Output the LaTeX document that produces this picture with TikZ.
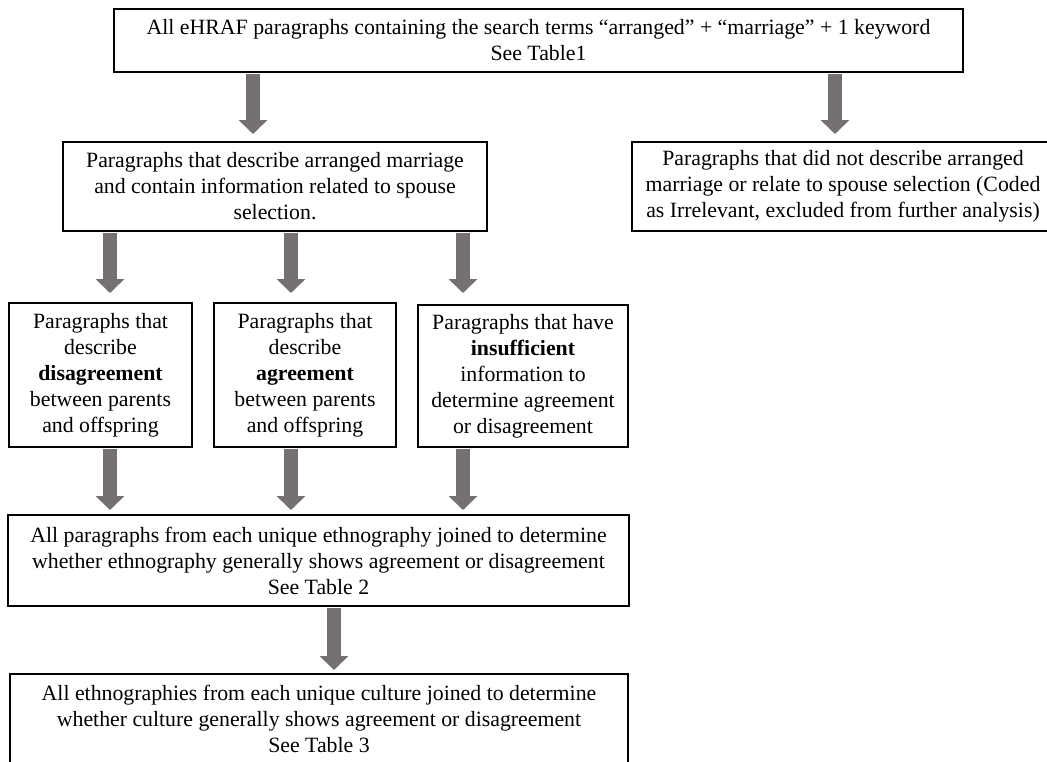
\documentclass[tikz,border=0pt]{standalone}
\usepackage{fontspec}
\setmainfont{Liberation Serif}
\usetikzlibrary{arrows.meta}
\definecolor{arrowgray}{RGB}{118,113,113}
\begin{document}
\begin{tikzpicture}[x=1pt,y=-1pt,
  box/.style={draw=black, line width=2pt, fill=white, inner sep=0pt, align=center,
    font=\fontsize{21.8}{26}\selectfont},
  fat/.style={draw=arrowgray, line width=14pt, shorten <=1pt,
    -{Triangle[width=28pt,length=14pt]}}]
\useasboundingbox (0,0) rectangle (1047,761);
\clip (0,0) rectangle (1047,761);
\fill[white] (0,0) rectangle (1047,761);

\node[box, minimum width=849pt, minimum height=63pt] (top) at (538.5,40.5)
  {All eHRAF paragraphs containing the search terms “arranged” + “marriage” + 1 keyword\\See Table1};
\node[box, minimum width=424pt, minimum height=89pt] (b2) at (275,186.5)
  {Paragraphs that describe arranged marriage\\and contain information related to spouse\\selection.};
\node[box, minimum width=422pt, minimum height=89pt] (b3) at (843,186.5)
  {Paragraphs that did not describe arranged\\marriage or relate to spouse selection (Coded\\as Irrelevant, excluded from further analysis)};
\node[box, minimum width=183pt, minimum height=144pt] (bA) at (100.5,375)
  {Paragraphs that\\describe\\\textbf{disagreement}\\between parents\\and offspring};
\node[box, minimum width=182pt, minimum height=144pt] (bB) at (305,375)
  {Paragraphs that\\describe\\\textbf{agreement}\\between parents\\and offspring};
\node[box, minimum width=210pt, minimum height=142pt] (bC) at (523,376)
  {Paragraphs that have\\\textbf{insufficient}\\information to\\determine agreement\\or disagreement};
\node[box, minimum width=621pt, minimum height=91pt] (b4) at (318.5,560.5)
  {All paragraphs from each unique ethnography joined to determine\\whether ethnography generally shows agreement or disagreement\\See Table 2};
\node[box, minimum width=618pt, minimum height=90pt] (b5) at (319,719)
  {All ethnographies from each unique culture joined to determine\\whether culture generally shows agreement or disagreement\\See Table 3};

\coordinate (xa) at (253,0);
\coordinate (xb) at (835,0);
\coordinate (c1) at (110,0);
\coordinate (c2) at (291,0);
\coordinate (c3) at (463,0);
\coordinate (c4) at (334,0);

\draw[fat, shorten >=7pt] (top.south -| xa) -- (b2.north -| xa);
\draw[fat, shorten >=7pt] (top.south -| xb) -- (b3.north -| xb);
\draw[fat, shorten >=9pt] (b2.south -| c1) -- (bA.north -| c1);
\draw[fat, shorten >=9pt] (b2.south -| c2) -- (bB.north -| c2);
\draw[fat, shorten >=11pt] (b2.south -| c3) -- (bC.north -| c3);
\draw[fat, shorten >=4pt] (bA.south -| c1) -- (b4.north -| c1);
\draw[fat, shorten >=4pt] (bB.south -| c2) -- (b4.north -| c2);
\draw[fat, shorten >=4pt] (bC.south -| c3) -- (b4.north -| c3);
\draw[fat, shorten >=3pt] (b4.south -| c4) -- (b5.north -| c4);
\end{tikzpicture}
\end{document}
